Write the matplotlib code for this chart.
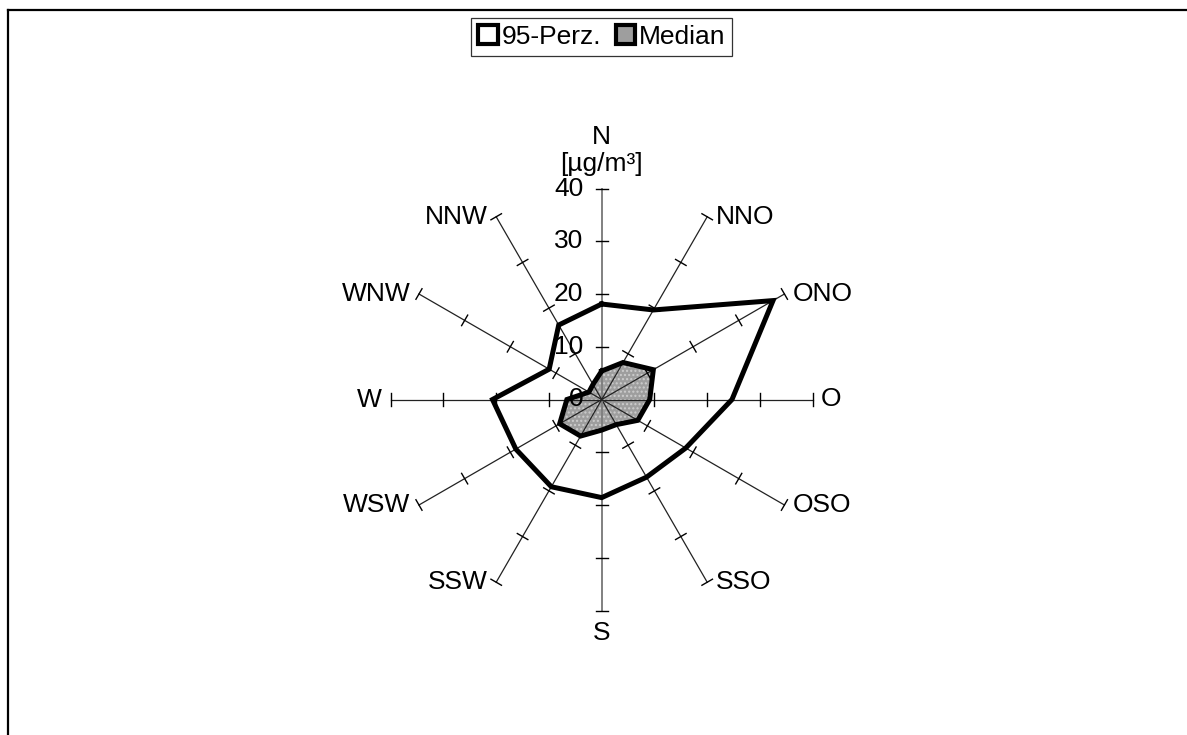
import numpy as np
import matplotlib
matplotlib.use('Agg')
import matplotlib.pyplot as plt
from matplotlib.patches import Patch
from matplotlib.lines import Line2D

plt.rcParams['font.family'] = ['Liberation Sans', 'DejaVu Sans']

# Windrichtungen (im Uhrzeigersinn ab Norden) und Messwerte in µg/m³
richtungen = ['N', 'NNO', 'ONO', 'O', 'OSO', 'SSO', 'S', 'SSW', 'WSW', 'W', 'WNW', 'NNW']
perz95 = [18.1, 19.6, 37.5, 24.7, 18.4, 17.0, 18.6, 19.1, 18.8, 20.7, 11.5, 16.3]
median = [5.4, 8.1, 11.3, 9.1, 7.9, 5.5, 5.8, 8.0, 9.2, 6.6, 2.8, 3.3]
ticks = [0, 10, 20, 30, 40]
rmax = 40

W, H = 1187, 735
cx, cy = 601.7, 399.5          # Mittelpunkt in Pixel
scale = 211.0 / rmax            # Pixel je µg/m³
fs = 19

fig = plt.figure(figsize=(W / 100, H / 100), dpi=100)
ax = fig.add_axes([0, 0, 1, 1])
ax.set_xlim(-cx / scale, (W - cx) / scale)
ax.set_ylim(-(H - cy) / scale, cy / scale)
ax.axis('off')

winkel = np.deg2rad(np.arange(len(richtungen)) * 360.0 / len(richtungen))


def xy(r, a):
    return np.asarray(r) * np.sin(a), np.asarray(r) * np.cos(a)


# Median-Fläche (unter den Achsen)
mx, my = xy(median, winkel)
ax.fill(mx, my, facecolor='#9e9e9e', edgecolor='none', zorder=1)
ax.fill(mx, my, facecolor='none', edgecolor='#cdcdcd', hatch='....', linewidth=0, zorder=1.1)

# Speichen mit Teilstrichen
tl = 1.15
for name, a in zip(richtungen, winkel):
    farbe = '#808080' if name in ('N', 'S') else '#222222'
    lw = 1.4 if name in ('N', 'S') else 0.9
    ex, ey = xy(rmax, a)
    ax.plot([0, ex], [0, ey], color=farbe, lw=lw, zorder=2)
    px, py = np.cos(a), -np.sin(a)
    for t in ticks[1:]:
        tx, ty = xy(t, a)
        ax.plot([tx - tl * px, tx + tl * px], [ty - tl * py, ty + tl * py],
                color='black', lw=1.0, zorder=2)

# Beschriftung der Werteachse
for t in ticks:
    ax.text(-3.5, t, str(t), ha='right', va='center', fontsize=fs, zorder=3)

# Linien
px95, py95 = xy(perz95, winkel)
ax.plot(np.append(px95, px95[0]), np.append(py95, py95[0]), color='black', lw=3.6,
        solid_joinstyle='miter', zorder=4)
ax.plot(np.append(mx, mx[0]), np.append(my, my[0]), color='black', lw=3.6,
        solid_joinstyle='miter', zorder=4)

# Richtungsbeschriftungen
off = 1.6
for name, a in zip(richtungen, winkel):
    ex, ey = xy(rmax, a)
    if name == 'N':
        ax.text(0, ey + 2.4, 'N\n[µg/m³]', ha='center', va='bottom', fontsize=fs,
                linespacing=1.15)
    elif name == 'S':
        ax.text(0, ey - 2.0, 'S', ha='center', va='top', fontsize=fs)
    elif ex > 0:
        ax.text(ex + off, ey, name, ha='left', va='center', fontsize=fs)
    else:
        ax.text(ex - off, ey, name, ha='right', va='center', fontsize=fs)

# Legende
handles = [Patch(facecolor='white', edgecolor='black', lw=3.0, label='95-Perz.'),
           Patch(facecolor='#9e9e9e', edgecolor='black', lw=3.0, label='Median')]
leg = fig.legend(handles=handles, loc='center', bbox_to_anchor=(0.507, 0.9497), ncol=2,
                 fontsize=fs, frameon=True, fancybox=False, handlelength=0.75,
                 handleheight=0.75, handletextpad=0.15, columnspacing=0.55,
                 borderpad=0.25, borderaxespad=0)
leg.get_frame().set_edgecolor('black')
leg.get_frame().set_linewidth(0.9)

# Rahmen des Diagrammbereichs
fig.add_artist(Line2D([8 / W, 1.0], [1 - 10 / H, 1 - 10 / H], color='black', lw=1.6))
fig.add_artist(Line2D([8 / W, 8 / W], [0, 1 - 10 / H], color='black', lw=1.6))

fig.savefig('out.png', dpi=100)
